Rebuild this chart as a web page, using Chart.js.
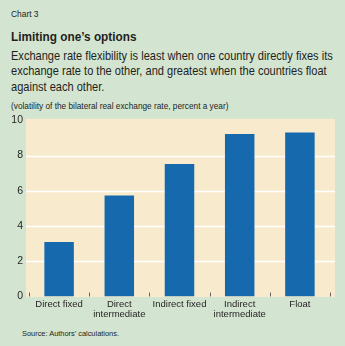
<!DOCTYPE html>
<html lang="en">
<head>
<meta charset="UTF-8">
<title>Chart 3</title>
<script src="https://cdn.jsdelivr.net/npm/chart.js"></script>
<style>
    html, body {
        margin: 0;
        padding: 0;
    }
    body {
        width: 345px;
        height: 346px;
        background: #d3e4d1;
        color: #231f20;
        font-family: "Liberation Sans", Arial, sans-serif;
        position: relative;
        overflow: hidden;
    }
    .txt {
        position: absolute;
        left: 11px;
        white-space: nowrap;
        line-height: 1;
        transform-origin: 0 0;
    }
    #label { top: 10.4px; font-size: 9px; }
    #title { top: 29.6px; font-size: 13.5px; font-weight: bold; }
    #sub { top: 47.8px; font-size: 12.8px; line-height: 15.5px; }
    #unit { top: 102.3px; font-size: 8.5px; }
    #source { top: 330.4px; left: 22px; font-size: 7.8px; }
    #wrap {
        position: absolute;
        left: 0;
        top: 108px;
        width: 345px;
        height: 218px;
    }
</style>
</head>
<body>
<div class="txt" id="label" data-w="28">Chart 3</div>
<div class="txt" id="title" data-w="126">Limiting one’s options</div>
<div class="txt" id="sub" data-w="322">Exchange rate flexibility is least when one country directly fixes its<br>exchange rate to the other, and greatest when the countries float<br>against each other.</div>
<div class="txt" id="unit" data-w="217">(volatility of the bilateral real exchange rate, percent a year)</div>
<div id="wrap"><canvas id="chart"></canvas></div>
<div class="txt" id="source" data-w="97">Source: Authors’ calculations.</div>

<script>
    // categories and values (percent a year)
    const categories = [
        'Direct fixed',
        ['Direct', 'intermediate'],
        'Indirect fixed',
        ['Indirect', 'intermediate'],
        'Float'
    ];
    const volatility = [3.1, 5.73, 7.52, 9.22, 9.31];
    const yTicks = [0, 2, 4, 6, 8, 10];

    const fontFamily = '"Liberation Sans", Arial, sans-serif';

    // squeeze the text blocks to a condensed width
    document.querySelectorAll('.txt').forEach(el => {
        const w = parseFloat(el.dataset.w);
        el.style.transform = 'scaleX(' + (w / el.scrollWidth) + ')';
    });

    // cream plot panel plus white gridlines, a bit wider than the category band
    const panel = {
        id: 'panel',
        beforeDatasetsDraw(chart) {
            const { ctx, chartArea, scales } = chart;
            const left = chartArea.left - 3;
            const right = chartArea.right + 5;
            ctx.save();
            ctx.fillStyle = '#f8ebcd';
            ctx.fillRect(left, chartArea.top - 1.5, right - left, chartArea.bottom - chartArea.top + 2);
            ctx.strokeStyle = '#ffffff';
            ctx.lineWidth = 1.6;
            yTicks.forEach(v => {
                if (v === 0 || v === 10) return;
                const y = Math.round(scales.y.getPixelForValue(v)) + 0.5;
                ctx.beginPath();
                ctx.moveTo(left, y);
                ctx.lineTo(right, y);
                ctx.stroke();
            });
            // small tick marks between categories
            ctx.strokeStyle = '#666';
            ctx.lineWidth = 1;
            for (let i = 0; i <= categories.length; i++) {
                const x = Math.round(scales.x.getPixelForValue(i - 0.5)) + 0.5;
                ctx.beginPath();
                ctx.moveTo(x, chartArea.bottom - 4);
                ctx.lineTo(x, chartArea.bottom);
                ctx.stroke();
            }
            ctx.restore();
        }
    };

    new Chart(document.getElementById('chart'), {
        type: 'bar',
        data: {
            labels: categories,
            datasets: [{
                data: volatility,
                backgroundColor: '#1769ae',
                barPercentage: 0.49,
                categoryPercentage: 1
            }]
        },
        options: {
            responsive: true,
            maintainAspectRatio: false,
            animation: false,
            layout: { padding: { top: 11.5, right: 15, left: 0, bottom: 0 } },
            plugins: {
                legend: { display: false },
                tooltip: { enabled: false }
            },
            scales: {
                x: {
                    grid: { display: false, drawTicks: false, tickLength: 0 },
                    border: { display: false },
                    ticks: {
                        color: '#231f20',
                        font: { family: fontFamily, size: 9.5, lineHeight: 1.05 },
                        padding: 3,
                        maxRotation: 0,
                        autoSkip: false
                    },
                    afterFit(scale) { scale.height = 29.5; }
                },
                y: {
                    min: 0,
                    max: 10,
                    grid: { display: false, drawTicks: false, tickLength: 0 },
                    border: { display: false },
                    afterBuildTicks(scale) {
                        scale.ticks = yTicks.map(v => ({ value: v }));
                    },
                    ticks: {
                        color: '#231f20',
                        font: { family: fontFamily, size: 10.5 },
                        padding: 6
                    },
                    afterFit(scale) { scale.width = 29; }
                }
            }
        },
        plugins: [panel]
    });
</script>
</body>
</html>
